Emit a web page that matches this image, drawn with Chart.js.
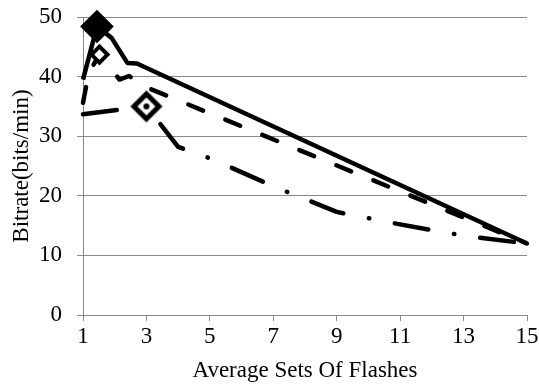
<!DOCTYPE html>
<html>
<head>
<meta charset="utf-8">
<script src="https://cdn.jsdelivr.net/npm/chart.js@4.4.1/dist/chart.umd.min.js"></script>
<style>
  html, body { margin: 0; padding: 0; background: #fff; }
</style>
</head>
<body>
<canvas id="chartCanvas" width="539" height="387"></canvas>
<script>
// axis ticks
const xTicks = [1, 3, 5, 7, 9, 11, 13, 15];
const yTicks = [0, 10, 20, 30, 40, 50];

// solid series (marker: filled diamond)
const solidX = [1, 1.44, 1.9, 2.4, 2.7, 15];
const solidY = [39.5, 48.4, 46.5, 42.3, 42.2, 12];
const solidMark = 1;

// dashed series (marker: hollow diamond)
const dashX = [1, 1.18, 1.52, 2.15, 2.45, 3, 15];
const dashY = [35.6, 40.6, 43.7, 39.5, 40.1, 38.2, 12];
const dashMark = 2;

// dash-dot series (marker: hollow diamond with dot)
const dotX = [1, 3, 4, 5, 7, 9, 11, 13, 15];
const dotY = [33.7, 35.0, 28.2, 26.3, 21.6, 17.3, 15.2, 13.3, 12];
const dotMark = 1;

const grey = '#888888';
const font = { family: 'Liberation Serif', size: 23 };

function pairs(xs, ys) {
  return xs.map((x, i) => ({ x: x, y: ys[i] }));
}

// diamond with a dot in the middle, used as point image
function dotDiamond() {
  const c = document.createElement('canvas');
  c.width = 34; c.height = 34;
  const g = c.getContext('2d');
  const r = 12.5;
  g.beginPath();
  g.moveTo(17, 17 - r); g.lineTo(17 + r, 17); g.lineTo(17, 17 + r); g.lineTo(17 - r, 17);
  g.closePath();
  g.fillStyle = '#fff';
  g.fill();
  g.lineWidth = 5;
  g.strokeStyle = '#000';
  g.stroke();
  g.beginPath();
  g.arc(17, 17, 3, 0, Math.PI * 2);
  g.fillStyle = '#000';
  g.fill();
  return c;
}

const markImg = dotDiamond();

function onlyAt(idx, r) {
  return (ctx) => ctx.dataIndex === idx ? r : 0;
}

const ctx = document.getElementById('chartCanvas').getContext('2d');

new Chart(ctx, {
  type: 'line',
  data: {
    datasets: [
      {
        label: 'solid',
        data: pairs(solidX, solidY),
        borderColor: '#000',
        borderWidth: 4.5,
        borderJoinStyle: 'round',
        pointStyle: 'rectRot',
        pointRadius: onlyAt(solidMark, 14),
        pointBackgroundColor: '#000',
        pointBorderColor: '#000',
        pointBorderWidth: 4,
        clip: false
      },
      {
        label: 'dashed',
        data: pairs(dashX, dashY),
        borderColor: '#000',
        borderWidth: 4.5,
        borderDash: [16, 24],
        borderCapStyle: 'round',
        borderJoinStyle: 'round',
        pointStyle: 'rectRot',
        pointRadius: onlyAt(dashMark, 8),
        pointBackgroundColor: '#fff',
        pointBorderColor: '#000',
        pointBorderWidth: 4,
        clip: false
      },
      {
        label: 'dashdot',
        data: pairs(dotX, dotY),
        borderColor: '#000',
        borderWidth: 4.5,
        borderDash: [34, 26, 0.5, 26],
        borderCapStyle: 'round',
        borderJoinStyle: 'round',
        pointStyle: markImg,
        pointRadius: onlyAt(dotMark, 12),
        clip: false
      }
    ]
  },
  options: {
    responsive: false,
    animation: false,
    layout: { padding: { top: 17, right: 12, left: 0, bottom: 0 } },
    plugins: {
      legend: { display: false },
      tooltip: { enabled: false }
    },
    elements: { line: { tension: 0 } },
    scales: {
      x: {
        type: 'linear',
        min: 1,
        max: 15,
        afterBuildTicks: (s) => { s.ticks = xTicks.map(v => ({ value: v })); },
        afterFit: (s) => { s.height = 72; s.paddingLeft = 0; s.paddingRight = 0; },
        ticks: { color: '#000', font: font, padding: 2, maxRotation: 0 },
        grid: { drawOnChartArea: false, drawTicks: true, tickLength: 6, color: grey },
        border: { color: grey, width: 1 },
        title: {
          display: true,
          text: 'Average Sets Of Flashes',
          color: '#000',
          font: font,
          padding: { top: 0, bottom: 2 }
        }
      },
      y: {
        min: 0,
        max: 50,
        afterBuildTicks: (s) => { s.ticks = yTicks.map(v => ({ value: v })); },
        afterFit: (s) => { s.width = 83; s.paddingTop = 0; s.paddingBottom = 0; },
        ticks: { color: '#000', font: font, padding: 15 },
        grid: { color: grey, tickLength: 6 },
        border: { color: grey, width: 1 },
        title: {
          display: true,
          text: 'Bitrate(bits/min)',
          color: '#000',
          font: font,
          padding: { top: 8, bottom: 0 }
        }
      }
    }
  }
});
</script>
</body>
</html>
